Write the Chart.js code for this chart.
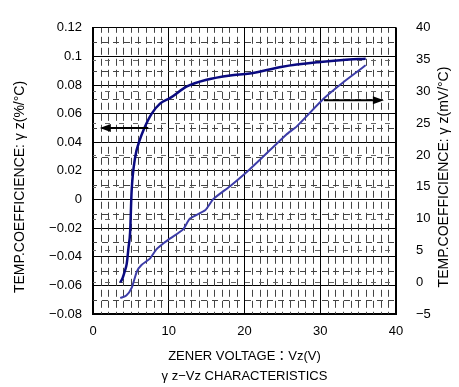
<!DOCTYPE html>
<html>
<head>
<meta charset="utf-8">
<script src="https://cdn.jsdelivr.net/npm/chart.js@4.4.1/dist/chart.umd.min.js"></script>
<style>
  html, body { margin: 0; padding: 0; background: #fff; }
  #wrap { width: 459px; height: 387px; }
</style>
</head>
<body>
<div id="wrap"><canvas id="gz"></canvas></div>
<script>
  // gamma-z in %/degC (left axis)
  var PCT_VZ = [3.6, 3.9, 4.2, 4.45, 4.7, 4.9, 5.1, 5.55, 6.2, 6.7, 7.75, 8.85, 10.2, 12.4, 15, 18.1, 20.7, 25, 30, 33, 36];
  var PCT_GZ = [-0.058, -0.055, -0.05, -0.045, -0.033, -0.023, 0.006, 0.029, 0.042, 0.049, 0.06, 0.067, 0.071, 0.079, 0.0837, 0.0867, 0.088, 0.0928, 0.0961, 0.0975, 0.0984];

  // gamma-z in mV/degC (right axis)
  var MV_VZ = [3.6, 4.4, 5.1, 5.8, 6.4, 7.5, 8.4, 9.5, 10.2, 11.9, 12.8, 14.8, 15.9, 18.1, 20, 22, 25.5, 26.9, 30.4, 33, 36];
  var MV_GZ = [-2.5, -2.1, -0.9, 1.7, 2.7, 3.7, 5.2, 6.3, 6.9, 8.3, 10, 11.3, 13.1, 15.1, 17, 19.2, 23.2, 24.5, 28.8, 31.4, 34.1];

  var X_TICKS = [0, 10, 20, 30, 40];
  var PCT_TICKS = [-0.08, -0.06, -0.04, -0.02, 0, 0.02, 0.04, 0.06, 0.08, 0.1, 0.12];
  var MV_TICKS = [-5, 0, 5, 10, 15, 20, 25, 30, 35, 40];

  var TITLE_PCT = "TEMP.COEFFICIENCE: \u03B3 z(%/\u00B0C)";
  var TITLE_MV = "TEMP.COEFFICIENCE: \u03B3 z(mV/\u00B0C)";

  // arrows pointing each curve to its axis: [fromX, toX, value]
  var ARROW_PCT = [7.3, 0.9, 0.05];
  var ARROW_MV = [30.5, 38.4, 28.6];

  var FONT = "'Liberation Sans', Arial, 'Noto Sans CJK JP', sans-serif";

  function pts(xs, ys) {
    return xs.map(function (x, i) { return { x: x, y: ys[i] }; });
  }

  function pctLabel(v) {
    if (Math.abs(v) < 1e-9) return "0";
    return (Math.round(v * 100) / 100).toString().replace("-", "\u2212");
  }

  // dashed minor grid, drawn under the curves
  var minorGrid = {
    id: "minorGrid",
    beforeDatasetsDraw: function (chart) {
      var ctx = chart.ctx, a = chart.chartArea;
      var sx = chart.scales.x, sy = chart.scales.y, sy2 = chart.scales.y2;
      ctx.save();
      ctx.strokeStyle = "#444";
      ctx.lineWidth = 1;

      ctx.setLineDash([7, 4]);
      ctx.lineDashOffset = 2;
      for (var v = 1; v < 40; v++) {
        if (v % 10 === 0) continue;
        var px = Math.round(sx.getPixelForValue(v)) + 0.5;
        ctx.beginPath();
        ctx.moveTo(px, a.top);
        ctx.lineTo(px, a.bottom);
        ctx.stroke();
      }

      ctx.setLineDash([6, 5]);
      for (var k = -7; k < 12; k += 2) {
        var py = Math.round(sy.getPixelForValue(k / 100)) + 0.5;
        ctx.beginPath();
        ctx.moveTo(a.left, py);
        ctx.lineTo(a.right, py);
        ctx.stroke();
      }

      ctx.strokeStyle = "#666";
      ctx.setLineDash([5, 9]);
      MV_TICKS.forEach(function (t) {
        var py = Math.round(sy2.getPixelForValue(t)) + 0.5;
        if (py <= a.top + 1 || py >= a.bottom - 1) return;
        ctx.beginPath();
        ctx.moveTo(a.left, py);
        ctx.lineTo(a.right, py);
        ctx.stroke();
      });
      ctx.restore();
    }
  };

  function drawArrow(ctx, x0, x1, y) {
    var dir = x1 > x0 ? 1 : -1;
    ctx.beginPath();
    ctx.moveTo(x0, y);
    ctx.lineTo(x1 - dir * 8, y);
    ctx.stroke();
    ctx.beginPath();
    ctx.moveTo(x1, y);
    ctx.lineTo(x1 - dir * 11, y - 4);
    ctx.lineTo(x1 - dir * 11, y + 4);
    ctx.closePath();
    ctx.fill();
  }

  var arrows = {
    id: "arrows",
    afterDatasetsDraw: function (chart) {
      var ctx = chart.ctx;
      var sx = chart.scales.x, sy = chart.scales.y, sy2 = chart.scales.y2;
      ctx.save();
      ctx.strokeStyle = "#000";
      ctx.fillStyle = "#000";
      ctx.lineWidth = 2;
      drawArrow(ctx, sx.getPixelForValue(ARROW_PCT[0]), sx.getPixelForValue(ARROW_PCT[1]), sy.getPixelForValue(ARROW_PCT[2]));
      drawArrow(ctx, sx.getPixelForValue(ARROW_MV[0]), sx.getPixelForValue(ARROW_MV[1]), sy2.getPixelForValue(ARROW_MV[2]));
      ctx.restore();
    }
  };

  // both vertical titles read bottom-to-top
  var sideTitles = {
    id: "sideTitles",
    afterDraw: function (chart) {
      var ctx = chart.ctx;
      ctx.save();
      ctx.fillStyle = "#000";
      ctx.font = "14px " + FONT;
      ctx.textAlign = "center";
      ctx.textBaseline = "middle";
      [[20, 187, TITLE_PCT], [444, 177, TITLE_MV]].forEach(function (t) {
        ctx.save();
        ctx.translate(t[0], t[1]);
        ctx.rotate(-Math.PI / 2);
        ctx.fillText(t[2], 0, 0);
        ctx.restore();
      });
      ctx.restore();
    }
  };

  new Chart(document.getElementById("gz"), {
    type: "line",
    data: {
      datasets: [
        {
          data: pts(PCT_VZ, PCT_GZ),
          yAxisID: "y",
          borderColor: "#0a0a80",
          borderWidth: 2.5,
          pointRadius: 0,
          cubicInterpolationMode: "monotone",
          fill: false
        },
        {
          data: pts(MV_VZ, MV_GZ),
          yAxisID: "y2",
          borderColor: "#3c3ca8",
          borderWidth: 2,
          pointRadius: 0,
          tension: 0.2,
          fill: false
        }
      ]
    },
    options: {
      responsive: true,
      maintainAspectRatio: false,
      animation: false,
      layout: { padding: { top: 18, left: 0, right: 0, bottom: 0 } },
      plugins: {
        legend: { display: false },
        tooltip: { enabled: false }
      },
      scales: {
        x: {
          type: "linear",
          min: 0,
          max: 40,
          afterBuildTicks: function (s) { s.ticks = X_TICKS.map(function (v) { return { value: v }; }); },
          afterFit: function (s) { s.height = 73; },
          grid: { color: "#000", lineWidth: 1, drawTicks: false },
          border: { color: "#000", width: 2 },
          ticks: { color: "#000", padding: 10, font: { family: FONT, size: 13 } },
          title: {
            display: true,
            text: ["ZENER VOLTAGE\uFF1AVz(V)", "\u03B3 z\u2212Vz CHARACTERISTICS"],
            color: "#000",
            font: { family: FONT, size: 13, lineHeight: 1.5 },
            padding: { top: 0, bottom: 1 }
          }
        },
        y: {
          position: "left",
          min: -0.08,
          max: 0.12,
          afterBuildTicks: function (s) { s.ticks = PCT_TICKS.map(function (v) { return { value: v }; }); },
          afterFit: function (s) { s.width = 93; },
          grid: { color: "#000", lineWidth: 1, drawTicks: false },
          border: { color: "#000", width: 2 },
          ticks: { color: "#000", padding: 11, font: { family: FONT, size: 13 }, callback: pctLabel }
        },
        y2: {
          position: "right",
          min: -5,
          max: 40,
          afterBuildTicks: function (s) { s.ticks = MV_TICKS.map(function (v) { return { value: v }; }); },
          afterFit: function (s) { s.width = 63; },
          grid: { drawOnChartArea: false, drawTicks: false },
          border: { color: "#000", width: 1.5 },
          ticks: {
            color: "#000",
            padding: 20,
            font: { family: FONT, size: 13 },
            callback: function (v) { return String(v).replace("-", "\u2212"); }
          }
        }
      }
    },
    plugins: [minorGrid, arrows, sideTitles]
  });
</script>
</body>
</html>
